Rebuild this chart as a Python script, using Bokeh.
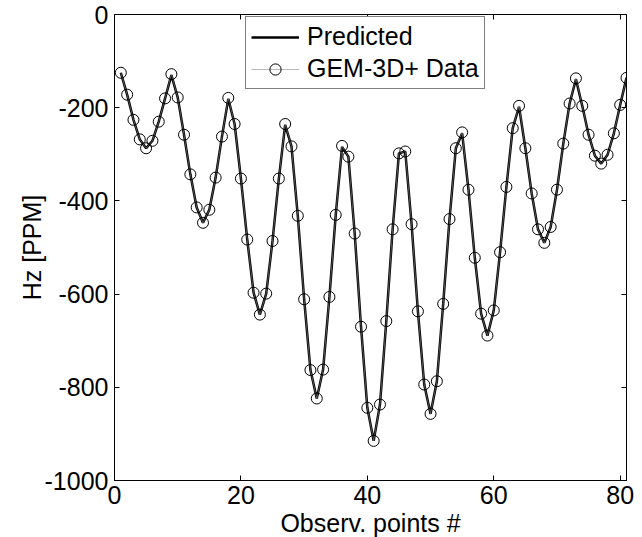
from bokeh.plotting import figure
from bokeh.models import (ColumnDataSource, LinearAxis, Legend, LegendItem, FixedTicker,
                          Range1d, PrintfTickFormatter)
from bokeh.embed import file_html
from bokeh.resources import INLINE

# data
obs_points = list(range(1, 82))
gem_data = [-125, -172, -226, -268, -287, -271, -230, -180, -128, -178,
            -258, -343, -414, -447, -419, -350, -262, -179, -235, -352,
            -483, -597, -644, -599, -486, -352, -235, -283, -432, -611,
            -763, -824, -762, -606, -430, -282, -305, -470, -670, -844,
            -915, -837, -658, -461, -298, -294, -450, -637, -794, -857,
            -787, -621, -439, -287, -253, -376, -522, -642, -689, -635,
            -510, -370, -244, -196, -287, -384, -461, -490, -456, -376,
            -277, -191, -137, -196, -258, -303, -320, -301, -255, -194,
            -136]
predicted = [-125, -172, -226, -268, -287, -271, -230, -180, -130, -178,
             -258, -343, -414, -447, -419, -350, -262, -181, -235, -352,
             -483, -597, -644, -599, -486, -352, -237, -283, -432, -611,
             -763, -824, -762, -606, -430, -284, -305, -470, -670, -844,
             -915, -837, -658, -461, -298, -294, -450, -637, -794, -857,
             -787, -621, -439, -287, -255, -376, -522, -642, -689, -635,
             -510, -370, -244, -198, -287, -384, -461, -490, -456, -376,
             -277, -191, -139, -196, -258, -303, -320, -301, -255, -194,
             -136]
x_ticks = [0, 20, 40, 60, 80]
y_ticks = [-1000, -800, -600, -400, -200, 0]

FONT = "Liberation Sans"
FS = "25px"

p = figure(frame_width=512, frame_height=466, output_backend="svg", toolbar_location=None,
           x_range=Range1d(0, 81), y_range=Range1d(-1000, 0),
           min_border_left=114, min_border_right=16, min_border_top=14, min_border_bottom=57)
p.background_fill_color = "white"
p.border_fill_color = "white"
p.outline_line_color = "black"
p.outline_line_width = 1
p.xgrid.visible = False
p.ygrid.visible = False

src = ColumnDataSource(dict(x=obs_points, y=gem_data, yp=predicted))

r_pred = p.line("x", "yp", source=src, line_color="black", line_width=2.5)
r_dline = p.line("x", "y", source=src, line_color="#888888", line_width=0.6)
r_dpts = p.scatter("x", "y", source=src, marker="circle", size=11,
                   fill_color=None, line_color="black", line_width=1)

def style_axis(ax, labels=True):
    ax.axis_line_color = "black"
    ax.axis_line_width = 1
    ax.major_tick_in = 5
    ax.major_tick_out = 0
    ax.minor_tick_line_color = None
    ax.major_tick_line_color = "black"
    ax.major_label_text_font = FONT
    ax.major_label_text_font_size = FS
    ax.major_label_text_color = "black" if labels else None
    ax.axis_label_text_font = FONT
    ax.axis_label_text_font_size = FS
    ax.axis_label_text_font_style = "normal"
    ax.axis_label_text_color = "black"

xa = p.xaxis[0]
xa.ticker = FixedTicker(ticks=x_ticks)
xa.formatter = PrintfTickFormatter(format="%d")
xa.axis_label = "Observ. points #"
xa.major_label_standoff = 5
xa.axis_label_standoff = 2
style_axis(xa)

ya = p.yaxis[0]
ya.ticker = FixedTicker(ticks=y_ticks)
ya.formatter = PrintfTickFormatter(format="%d")
ya.axis_label = "Hz [PPM]"
ya.major_label_standoff = 6
ya.axis_label_standoff = -4
style_axis(ya)

top = LinearAxis(ticker=FixedTicker(ticks=x_ticks))
style_axis(top, labels=False)
top.major_label_text_font_size = "0px"
p.add_layout(top, "above")
right = LinearAxis(ticker=FixedTicker(ticks=y_ticks))
style_axis(right, labels=False)
right.major_label_text_font_size = "0px"
p.add_layout(right, "right")

legend = Legend(items=[LegendItem(label="Predicted", renderers=[r_pred]),
                       LegendItem(label="GEM-3D+ Data", renderers=[r_dline, r_dpts])],
                location=(131, 391))
legend.label_text_font = FONT
legend.label_text_font_size = FS
legend.label_text_color = "black"
legend.border_line_color = "black"
legend.border_line_width = 1
legend.background_fill_color = "white"
legend.background_fill_alpha = 1
legend.padding = 5
legend.spacing = 3
legend.margin = 0
legend.glyph_width = 48
legend.glyph_height = 28
legend.label_height = 28
legend.label_standoff = 8
p.add_layout(legend, "center")

open("out.html", "w").write(file_html(p, INLINE))
